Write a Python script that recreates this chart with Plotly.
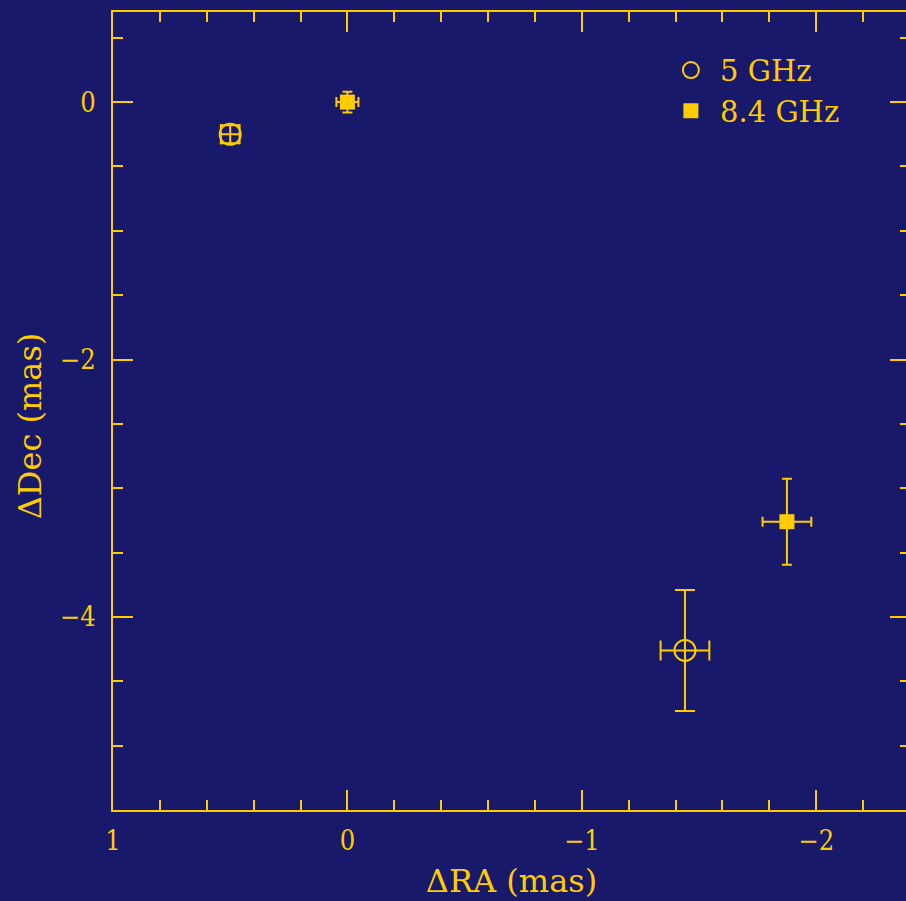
import plotly.graph_objects as go

BG = "#19196b"
GOLD = "#ffcc00"

# 5 GHz positions (open circles)
ra_5 = [0.5, -1.44]
dec_5 = [-0.25, -4.26]
ra_err_5 = [0.04, 0.104]
dec_err_5 = [0.07, 0.47]

# 8.4 GHz positions (filled squares)
ra_8 = [0.0, -1.875]
dec_8 = [0.0, -3.26]
ra_err_8 = [0.047, 0.104]
dec_err_8 = [0.08, 0.334]

x_ticks = [1, 0, -1, -2]
y_ticks = [0, -2, -4]

FONT = "DejaVu Serif Condensed"
TFONT = "DejaVu Serif"

fig = go.Figure()
fig.add_trace(go.Scatter(
    x=ra_5, y=dec_5, mode="markers", name="\u00a05 GHz",
    marker=dict(symbol="circle-open", size=21, color=GOLD, line=dict(width=2, color=GOLD)),
    error_x=dict(type="data", array=ra_err_5, color=GOLD, thickness=2, width=10),
    error_y=dict(type="data", array=dec_err_5, color=GOLD, thickness=2, width=10),
))
fig.add_trace(go.Scatter(
    x=ra_8, y=dec_8, mode="markers", name="\u00a08.4 GHz",
    marker=dict(symbol="square", size=15, color=GOLD),
    error_x=dict(type="data", array=ra_err_8, color=GOLD, thickness=2, width=5),
    error_y=dict(type="data", array=dec_err_8, color=GOLD, thickness=2, width=5),
))

axis_common = dict(
    showgrid=False, zeroline=False, showline=True, linecolor=GOLD, linewidth=2,
    mirror="allticks", ticks="inside", ticklen=20, tickwidth=2, tickcolor=GOLD,
    tickfont=dict(family=FONT, size=27, color=GOLD),
)

fig.update_layout(
    width=912, height=901,
    margin=dict(l=113, r=0, t=12, b=91),
    paper_bgcolor=BG, plot_bgcolor=BG,
    font=dict(family=FONT, color=GOLD, size=27),
    showlegend=True,
    legend=dict(x=0.70, y=0.959, xanchor="left", yanchor="top", bgcolor="rgba(0,0,0,0)",
                font=dict(family=TFONT, size=29, color=GOLD),
                itemsizing="trace", tracegroupgap=2),
    xaxis=dict(range=[1, -2.4], tickvals=x_ticks, ticktext=[str(v).replace("-", "\u2212") for v in x_ticks],
               minor=dict(dtick=0.2, tick0=0, ticklen=10, tickwidth=2, tickcolor=GOLD, ticks="inside"),
               ticklabelstandoff=6,
               title=dict(text="ΔRA (mas)", font=dict(family=TFONT, size=32, color=GOLD), standoff=14),
               **axis_common),
    yaxis=dict(range=[-5.5, 0.7], tickvals=y_ticks, ticktext=[str(v).replace("-", "\u2212") for v in y_ticks],
               minor=dict(dtick=0.5, tick0=0, ticklen=10, tickwidth=2, tickcolor=GOLD, ticks="inside"),
               ticklabelstandoff=10,
               **axis_common),
    annotations=[dict(text="ΔDec (mas)", textangle=-90, xref="paper", yref="paper",
                      x=-0.104, y=0.481, xanchor="center", yanchor="middle", showarrow=False,
                      font=dict(family=TFONT, size=32, color=GOLD))],
)

fig.write_html("out.html")
